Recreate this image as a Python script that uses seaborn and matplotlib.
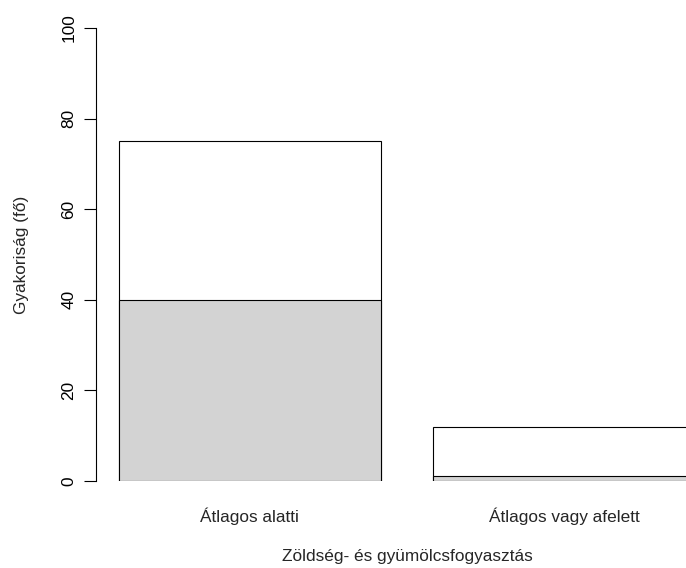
import pandas as pd
import matplotlib.pyplot as plt
import seaborn as sns

# Adatok
kategoriak = ["Átlagos alatti", "Átlagos vagy afelett"]
also = [40, 1]      # szürke rész
felso = [35, 11]    # fehér rész

df = pd.DataFrame({"kat": kategoriak, "also": also, "felso": felso})
df["osszes"] = df["also"] + df["felso"]

sns.set_style("white")
plt.rcParams["font.family"] = ["Liberation Sans", "DejaVu Sans"]
fs = 12.4

fig = plt.figure(figsize=(6.86, 5.68), dpi=100)
ax = fig.add_axes([96 / 686, 1 - 481 / 568, (718 - 96) / 686, (481 - 28) / 568])

sns.barplot(data=df, x="kat", y="osszes", color="white", edgecolor="black",
            linewidth=0.8, width=0.8333, saturation=1, ax=ax)
sns.barplot(data=df, x="kat", y="also", color="#D3D3D3", edgecolor="black",
            linewidth=0.8, width=0.8333, saturation=1, ax=ax)

ax.set_xlim(-0.49, 1.49)
ax.set_ylim(0, 100)
ax.set_yticks([0, 20, 40, 60, 80, 100])

for s in ["top", "right", "bottom"]:
    ax.spines[s].set_visible(False)
ax.spines["left"].set_color("black")
ax.spines["left"].set_linewidth(0.8)
ax.spines["left"].set_bounds(0, 100)

ax.tick_params(axis="y", direction="out", length=8.5, width=0.8, pad=5.5,
               labelsize=fs, colors="black", left=True)
for t in ax.get_yticklabels():
    t.set_rotation(90)
    t.set_va("center")
ax.tick_params(axis="x", length=0, pad=19, labelsize=fs)

ax.set_xlabel("Zöldség- és gyümölcsfogyasztás", fontsize=fs)
ax.set_ylabel("Gyakoriság (fő)", fontsize=fs)
ax.xaxis.set_label_coords(0.5, (481 - 557) / 453)
ax.xaxis.label.set_va("center")
ax.yaxis.set_label_coords((22 - 96) / 622, 0.5)
ax.yaxis.label.set_va("center")

fig.savefig("out.png", dpi=100)
